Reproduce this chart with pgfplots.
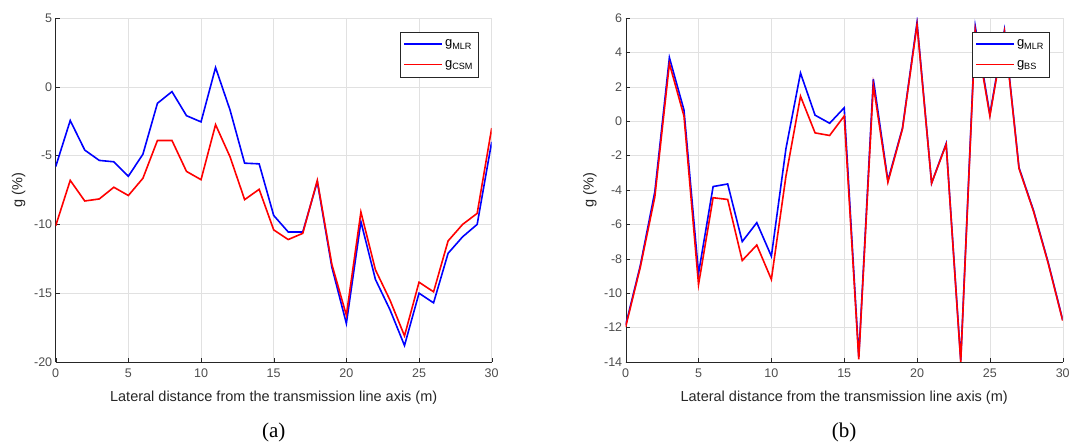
\documentclass[border=0pt]{standalone}
\usepackage{pgfplots}
\pgfplotsset{compat=1.18}
\usepackage{pgfplotstable}
\usepackage{fontspec}
\setmainfont{Liberation Sans}
\newfontfamily\serif{Liberation Serif}

\definecolor{tickgray}{RGB}{77,77,77}
\definecolor{gridgray}{RGB}{225,225,225}
\definecolor{axgray}{RGB}{38,38,38}

% left panel: g_MLR vs g_CSM
\pgfplotstableread{
x mlr csm
0 -5.8 -10.1
1 -2.45 -6.8
2 -4.6 -8.3
3 -5.35 -8.15
4 -5.45 -7.3
5 -6.5 -7.9
6 -4.9 -6.65
7 -1.2 -3.9
8 -0.35 -3.9
9 -2.1 -6.15
10 -2.55 -6.75
11 1.4 -2.75
12 -1.7 -5.1
13 -5.55 -8.2
14 -5.6 -7.45
15 -9.35 -10.4
16 -10.55 -11.1
17 -10.55 -10.65
18 -6.9 -6.8
19 -13.1 -12.9
20 -17.2 -16.6
21 -9.8 -9.1
22 -14.0 -13.3
23 -16.2 -15.5
24 -18.8 -18.1
25 -15.0 -14.2
26 -15.7 -14.9
27 -12.1 -11.2
28 -10.9 -10.0
29 -10.0 -9.2
30 -4.0 -3.0
}\tableA

% right panel: g_MLR vs g_BS
\pgfplotstableread{
x mlr bs
0 -11.85 -11.95
1 -8.4 -8.5
2 -4.1 -4.4
3 3.7 3.35
4 0.65 0.3
5 -8.85 -9.5
6 -3.8 -4.45
7 -3.65 -4.55
8 -7.0 -8.1
9 -5.9 -7.2
10 -7.85 -9.2
11 -1.6 -3.2
12 2.8 1.45
13 0.35 -0.68
14 -0.12 -0.83
15 0.78 0.3
16 -13.7 -13.85
17 2.45 2.1
18 -3.45 -3.55
19 -0.4 -0.45
20 5.75 5.6
21 -3.6 -3.6
22 -1.3 -1.35
23 -13.9 -14.0
24 5.5 5.3
25 0.4 0.3
26 5.3 5.2
27 -2.7 -2.75
28 -5.2 -5.25
29 -8.2 -8.25
30 -11.55 -11.6
}\tableB

\pgfplotsset{
  panel/.style={
    scale only axis,
    height=344pt,
    xmin=0, xmax=30,
    xtick={0,5,...,30},
    axis x line*=bottom,
    axis y line*=left,
    axis line style={axgray,-},
    tick style={axgray},
    tick align=inside,
    major tick length=4pt,
    grid=major,
    major grid style={gridgray},
    clip mode=individual,
    tick label style={font=\fontsize{12.5}{14}\selectfont, text=tickgray},
    /pgf/number format/assume math mode=true,
    xticklabel style={yshift=-3pt},
    label style={font=\fontsize{14.5}{16}\selectfont, text=axgray},
    xlabel={Lateral distance from the transmission line axis (m)},
    xlabel style={at={(axis description cs:0.5,0)}, anchor=center, yshift=-36pt},
    ylabel={g (\%)},
    legend style={at={(axis description cs:0.969,0.96)}, anchor=north east,
      draw=axgray, fill=white, font=\fontsize{13}{15}\selectfont,
      inner xsep=3pt, inner ysep=6pt, row sep=8pt, cells={anchor=west}},
    legend image code/.code={\draw[#1, line width=1.6pt] (-2pt,0pt) -- (36pt,0pt);},
    every axis plot/.append style={line width=1.6pt},
  }
}

\begin{document}
\begin{tikzpicture}
\useasboundingbox (-55.7pt,-85pt) rectangle (1016.3pt,362pt);

\begin{axis}[panel, at={(0pt,0pt)}, width=436pt,
  ymin=-20, ymax=5, ytick={-20,-15,...,5},
  ylabel style={at={(axis description cs:-0.085,0.5)}, anchor=center}]
\addplot[blue] table[x=x, y=mlr] {\tableA};
\addlegendentry{g\textsubscript{MLR}}
\addplot[red] table[x=x, y=csm] {\tableA};
\addlegendentry{g\textsubscript{CSM}}
\node[font=\serif\fontsize{21}{23}\selectfont] at (axis description cs:0.5,-0.206) {(a)};
\end{axis}

\begin{axis}[panel, at={(570pt,0pt)}, width=437pt,
  ymin=-14, ymax=6, ytick={-14,-12,...,6},
  ylabel style={at={(axis description cs:-0.082,0.5)}, anchor=center}]
\addplot[blue] table[x=x, y=mlr] {\tableB};
\addlegendentry{g\textsubscript{MLR}}
\addplot[red] table[x=x, y=bs] {\tableB};
\addlegendentry{g\textsubscript{BS}}
\node[font=\serif\fontsize{21}{23}\selectfont] at (axis description cs:0.5,-0.206) {(b)};
\end{axis}
\end{tikzpicture}
\end{document}
